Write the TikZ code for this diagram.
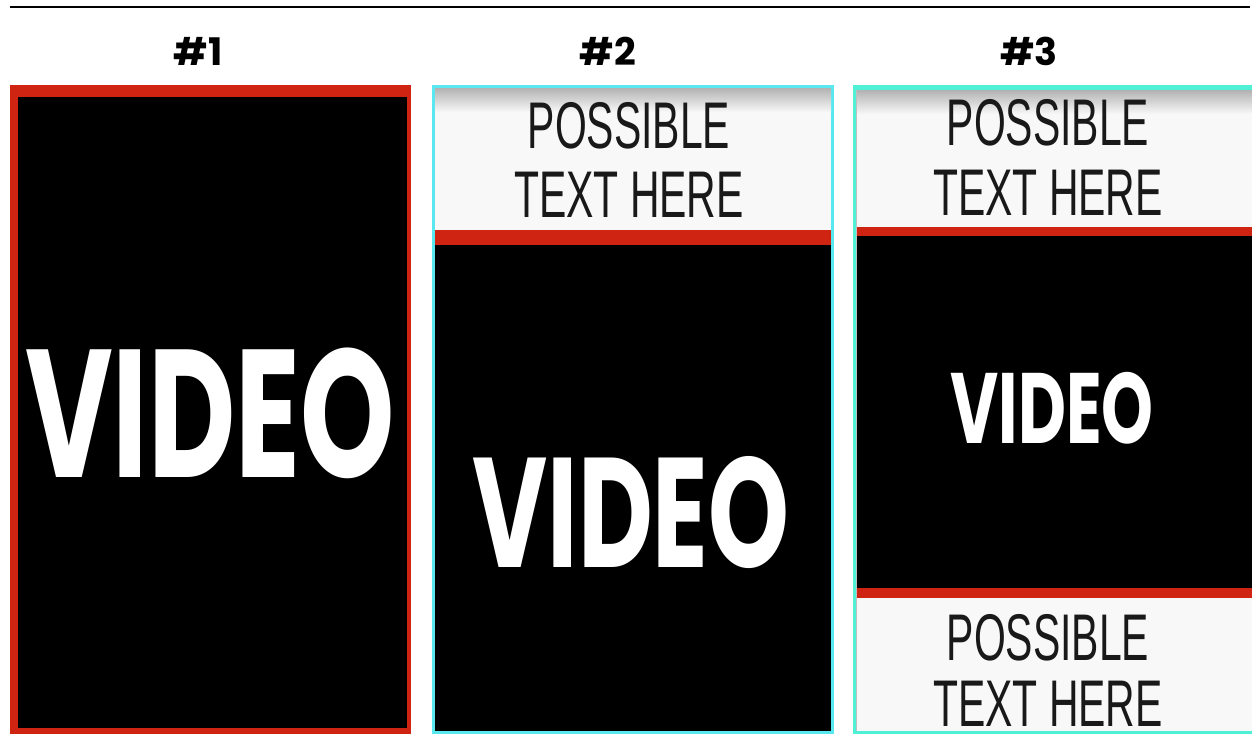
\documentclass[tikz,border=0pt]{standalone}
\usepackage{fontspec}
\setmainfont{Poppins}
\newfontfamily\videofont[FakeStretch=0.66]{Poppins}
\newfontfamily\captfont[FakeStretch=0.62]{Liberation Sans}
\usepackage{xcolor}
\usepackage{tikz}
\usetikzlibrary{positioning}

\definecolor{frameRed}{RGB}{208,36,18}
\definecolor{frameCyan}{RGB}{90,232,240}
\definecolor{frameTeal}{RGB}{80,240,215}
\definecolor{paperWhite}{RGB}{248,248,248}

\begin{document}
\begin{tikzpicture}[x=1pt,y=-1pt,
    videotext/.style={text=white, inner sep=0pt, anchor=base},
    capttext/.style={text=black!90, inner sep=0pt, anchor=base,
        font=\captfont\fontsize{66}{66}\selectfont},
    numtext/.style={text=black, inner sep=0pt, anchor=base,
        font=\bfseries\fontsize{38}{38}\selectfont}]
\useasboundingbox (0,0) rectangle (1252,734);
\fill[white] (0,0) rectangle (1252,734);

% rule on top
\draw[black, line width=2pt] (10,7) -- (1250,7);

% Layout numbers
\foreach \x/\n [count=\i] in {198/1, 608/2, 1029/3} {
    \node[numtext] (num\i) at (\x, 65) {\#\n};
}

% Panel 1: full video
\fill[frameRed] (10,85) rectangle (411,734);
\fill[black] (18,97) rectangle (407,728);
\node[videotext, font=\videofont\bfseries\fontsize{182}{182}\selectfont] (vid1) at (210,477) {VIDEO};

% Panel 2: text band on top
\fill[frameCyan] (432,85) rectangle (834,734);
\fill[paperWhite] (435,88) rectangle (831,230);
\shade[top color=black!30, bottom color=paperWhite] (435,88) rectangle (831,112);
\fill[frameRed] (435,230) rectangle (831,245);
\fill[black] (435,245) rectangle (831,731);
\node[videotext, font=\videofont\bfseries\fontsize{156}{156}\selectfont] (vid2) at (631,567) {VIDEO};

% Panel 3: text bands on top and bottom
\fill[frameTeal] (853,85) rectangle (1252,734);
\fill[paperWhite] (856,90) rectangle (1252,227);
\shade[top color=black!30, bottom color=paperWhite] (856,90) rectangle (1252,114);
\fill[frameRed] (856,227) rectangle (1252,236);
\fill[black] (856,236) rectangle (1252,588);
\fill[frameRed] (856,588) rectangle (1252,598);
\fill[paperWhite] (856,598) rectangle (1252,731);
\draw[black!25, line width=1.5pt] (856.5,90) -- (856.5,731);
\node[videotext, font=\videofont\bfseries\fontsize{100}{100}\selectfont] (vid3) at (1052,443) {VIDEO};

% Caption placeholders
\foreach \x/\ya/\yb [count=\i] in {629/148/217, 1048/145/215, 1048/660/726} {
    \node[capttext] (capA\i) at (\x,\ya) {POSSIBLE};
    \node[capttext] (capB\i) at (\x,\yb) {TEXT HERE};
}
\end{tikzpicture}
\end{document}
